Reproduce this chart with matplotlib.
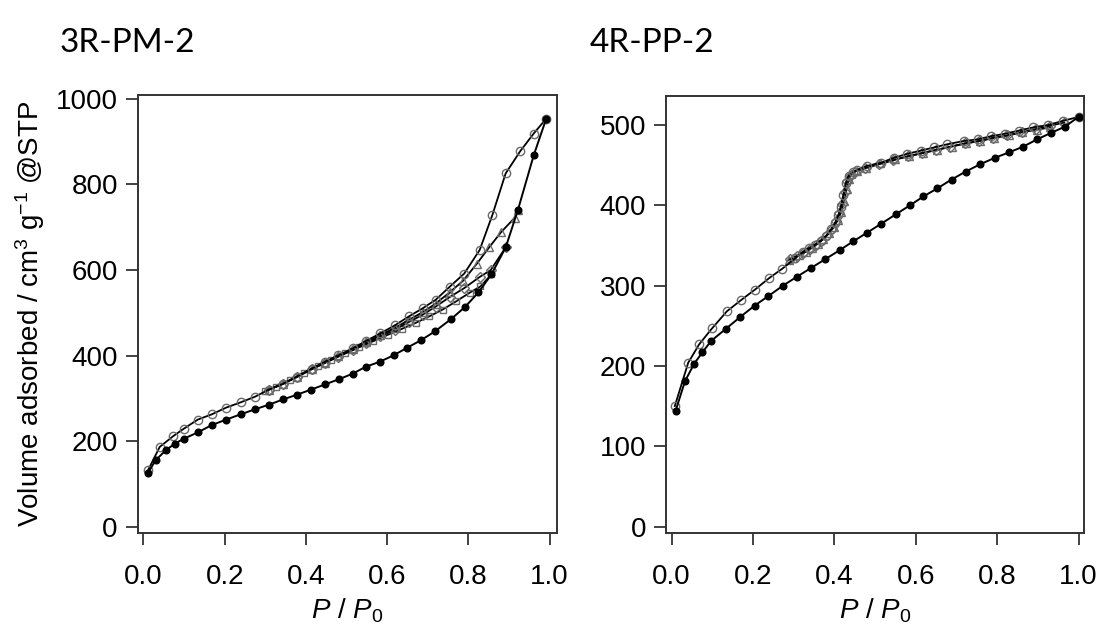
import matplotlib
matplotlib.use("Agg")
from matplotlib import pyplot as plt

plt.rcParams['font.family'] = 'Liberation Sans'
plt.rcParams['mathtext.fontset'] = 'custom'
plt.rcParams['mathtext.rm'] = 'Liberation Sans'
plt.rcParams['mathtext.it'] = 'Liberation Sans:italic'

# ---- 3R-PM-2 ----
l_ads_x = [0.011, 0.030, 0.056, 0.078, 0.099, 0.134, 0.168, 0.204, 0.239, 0.275,
           0.310, 0.344, 0.378, 0.413, 0.447, 0.481, 0.515, 0.547, 0.582, 0.616,
           0.650, 0.683, 0.718, 0.758, 0.792, 0.825, 0.857, 0.892, 0.922, 0.961, 0.992]
l_ads_y = [126, 156, 180, 195, 206, 221, 238, 251, 263, 275,
           286, 298, 309, 321, 333, 345, 358, 374, 386, 401,
           419, 436, 457, 486, 514, 548, 590, 653, 740, 868, 954]

l_des_x = [0.992, 0.961, 0.928, 0.892, 0.859, 0.828, 0.790, 0.754, 0.720, 0.688,
           0.654, 0.619, 0.583, 0.549, 0.515, 0.480, 0.447, 0.414, 0.377, 0.343,
           0.309, 0.274, 0.239, 0.204, 0.168, 0.134, 0.100, 0.073, 0.040, 0.011]
l_des_y = [954, 919, 878, 826, 728, 647, 592, 561, 531, 511,
           492, 471, 452, 435, 417, 401, 386, 370, 351, 334,
           321, 304, 291, 279, 263, 251, 230, 212, 187, 132]

l_scan1_x = [0.922, 0.914, 0.881, 0.852, 0.821, 0.787, 0.754, 0.720, 0.688, 0.654,
             0.619, 0.583, 0.549, 0.515, 0.480, 0.447, 0.414, 0.377, 0.343, 0.309]
l_scan1_y = [740, 722, 689, 654, 615, 575, 548, 522, 502, 484,
             465, 448, 431, 415, 399, 384, 369, 350, 334, 321]

l_scan2_x = [0.892, 0.855, 0.828, 0.790, 0.754, 0.720, 0.688, 0.654, 0.619, 0.583,
             0.549, 0.515, 0.480, 0.447, 0.414, 0.377, 0.343, 0.309]
l_scan2_y = [653, 600, 584, 558, 537, 515, 496, 479, 461, 445,
             429, 413, 398, 383, 368, 350, 334, 321]

l_scan3_x = [0.857, 0.830, 0.803, 0.770, 0.737, 0.704, 0.671, 0.637, 0.602, 0.566,
             0.532, 0.497, 0.463, 0.430, 0.395, 0.360, 0.326, 0.300]
l_scan3_y = [590, 562, 547, 527, 508, 492, 477, 463, 449, 434,
             420, 406, 391, 377, 360, 343, 328, 318]

# ---- 4R-PP-2 ----
r_ads_x = [0.010, 0.033, 0.056, 0.076, 0.097, 0.133, 0.169, 0.204, 0.238, 0.274,
           0.308, 0.343, 0.378, 0.413, 0.446, 0.481, 0.515, 0.552, 0.586, 0.619,
           0.653, 0.688, 0.723, 0.758, 0.794, 0.830, 0.864, 0.898, 0.932, 0.967, 1.000]
r_ads_y = [144, 181, 203, 217, 231, 246, 261, 275, 287, 300,
           311, 322, 333, 344, 355, 366, 377, 389, 400, 411,
           421, 432, 442, 451, 459, 466, 473, 482, 490, 498, 510]

r_des_x = [1.000, 0.961, 0.926, 0.889, 0.854, 0.819, 0.785, 0.752, 0.718, 0.678,
           0.645, 0.612, 0.579, 0.546, 0.515, 0.480, 0.456, 0.445, 0.435, 0.428,
           0.422, 0.416, 0.410, 0.402, 0.392, 0.380, 0.366, 0.352, 0.338, 0.322,
           0.304, 0.272, 0.239, 0.205, 0.171, 0.136, 0.100, 0.068, 0.041, 0.008]
r_des_y = [510, 505, 500, 497, 493, 489, 486, 482, 480, 476,
           472, 468, 464, 459, 453, 449, 444, 441, 437, 428,
           413, 398, 388, 378, 370, 362, 356, 351, 347, 342,
           334, 321, 309, 295, 282, 268, 247, 227, 204, 150]

r_scan1_x = [0.965, 0.930, 0.895, 0.860, 0.825, 0.790, 0.755, 0.720, 0.685, 0.650,
             0.615, 0.580, 0.545, 0.510, 0.475, 0.450, 0.438, 0.431, 0.425, 0.419,
             0.412, 0.404, 0.394, 0.382, 0.368, 0.354, 0.340, 0.324, 0.308, 0.292]
r_scan1_y = [503, 499, 495, 491, 487, 484, 480, 477, 473, 469,
             465, 461, 456, 451, 446, 442, 437, 430, 416, 401,
             390, 380, 371, 363, 356, 351, 346, 341, 337, 333]

r_scan2_x = [0.930, 0.897, 0.862, 0.828, 0.793, 0.758, 0.723, 0.688, 0.653, 0.618,
             0.583, 0.548, 0.513, 0.478, 0.455, 0.442, 0.436, 0.430, 0.424, 0.417,
             0.409, 0.399, 0.387, 0.373, 0.359, 0.345, 0.330, 0.314, 0.298, 0.288]
r_scan2_y = [497, 494, 491, 487, 484, 480, 477, 473, 469, 465,
             461, 457, 452, 447, 443, 439, 433, 420, 405, 392,
             382, 373, 365, 358, 352, 347, 342, 338, 334, 332]

x_ticks = [0.0, 0.2, 0.4, 0.6, 0.8, 1.0]
x_ticklabels = ["0.0", "0.2", "0.4", "0.6", "0.8", "1.0"]
l_yticks = [0, 200, 400, 600, 800, 1000]
r_yticks = [0, 100, 200, 300, 400, 500]

fig = plt.figure(figsize=(11.02, 6.28), dpi=100)
ax1 = fig.add_axes([0.1252, 0.1513, 0.3798, 0.6974])
ax2 = fig.add_axes([0.6044, 0.1513, 0.3793, 0.6958])

filled = dict(color="black", lw=1.4, marker="o", ms=4.8, mfc="black", mec="black")
def hollow(m, ms=6.0):
    return dict(color="black", lw=1.3, marker=m, ms=ms, mfc="none", mec="#6a6a6a", mew=1.0)

ax1.plot(l_scan3_x, l_scan3_y, **hollow("s", 5.0))
ax1.plot(l_scan2_x, l_scan2_y, **hollow("D", 5.0))
ax1.plot(l_scan1_x, l_scan1_y, **hollow("^", 5.5))
ax1.plot(l_des_x, l_des_y, **hollow("o"))
ax1.plot(l_ads_x, l_ads_y, **filled)

ax2.plot(r_scan2_x, r_scan2_y, **hollow("^", 5.5))
ax2.plot(r_scan1_x, r_scan1_y, **hollow("D", 5.0))
ax2.plot(r_des_x, r_des_y, **hollow("o"))
ax2.plot(r_ads_x, r_ads_y, **filled)

ax1.set_xlim(-0.0135, 1.0172)
ax1.set_ylim(-14, 1009)
ax2.set_xlim(-0.0135, 1.0135)
ax2.set_ylim(-8, 536)

for ax, yt in ((ax1, l_yticks), (ax2, r_yticks)):
    ax.set_xticks(x_ticks)
    ax.set_xticklabels(x_ticklabels)
    ax.set_yticks(yt)
    ax.tick_params(axis="both", direction="out", length=8.5, width=1.2,
                   color="#222222", labelsize=20)
    ax.tick_params(axis="x", pad=14)
    ax.tick_params(axis="y", pad=6)
    for s in ax.spines.values():
        s.set_linewidth(1.4)
        s.set_color("#333333")
    ax.set_xlabel(r"$P$ / $P_0$", fontsize=20)
    ax.xaxis.set_label_coords(0.5, -0.145)

ax1.set_ylabel(r"Volume adsorbed / cm$^3$ g$^{-1}$ @STP", fontsize=20, va="center")
ax1.yaxis.set_label_coords(-0.258, 0.5)

fig.text(60 / 1102, 1 - 52 / 628, "3R-PM-2", fontsize=24, family="Lato", va="baseline")
fig.text(590 / 1102, 1 - 52 / 628, "4R-PP-2", fontsize=24, family="Lato", va="baseline")

fig.savefig("out.png", dpi=100)
